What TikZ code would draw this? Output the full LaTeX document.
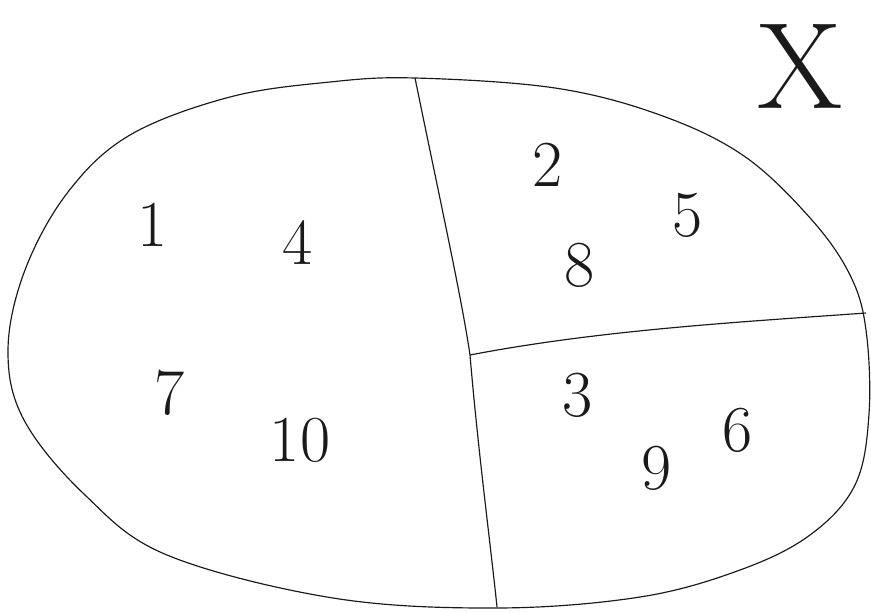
\documentclass[tikz,border=0pt]{standalone}
\usepackage{tikz}
\usetikzlibrary{positioning,calc}
\definecolor{Ink}{HTML}{1A1A1A}

\begin{document}
\begin{tikzpicture}[x=0.03cm,y=-0.03cm,line width=1pt,
    every node/.style={font=\fontsize{56}{56}\selectfont,text=Ink,anchor=center},
    partline/.style={draw=Ink,line width=1pt}]
  \useasboundingbox (0,0) rectangle (871,612);
  % outer oval
  \draw[partline] plot[smooth cycle,tension=0.6] coordinates {
    (415,78) (555,88) (660,115) (744,156) (811,219) (850,275) (866,330)
    (869,414) (855,485) (810,535) (740,570) (640,597) (497,608)
    (333,598) (167,555) (85,495) (24,420) (8,350) (25,270) (68,192)
    (130,135) (230,97) (330,82)};
  % dividers
  \coordinate (top) at (415,78);
  \coordinate (mid) at (470,355);
  \coordinate (bot) at (497,607);
  \coordinate (rgt) at (866,313);
  \draw[partline] (top) .. controls (440,200) and (462,300) .. (mid)
    .. controls (478,450) and (490,540) .. (bot);
  \draw[partline] (mid) .. controls (600,330) and (740,322) .. (rgt);
  % left part
  \node (n1) at (153,225) {1};
  \node (n4) at (298,243) {4};
  \node (n7) at (170,393) {7};
  \node (n10) at (300,440) {10};
  % upper right part
  \node (n2) at (548,165) {2};
  \node (n8) at (580,265) {8};
  \node (n5) at (688,215) {5};
  % lower right part
  \node (n3) at (578,395) {3};
  \node (n6) at (738,430) {6};
  \node (n9) at (657,468) {9};
  \node[font=\fontsize{105}{105}\selectfont] (x) at (800,66) {X};
\end{tikzpicture}
\end{document}
